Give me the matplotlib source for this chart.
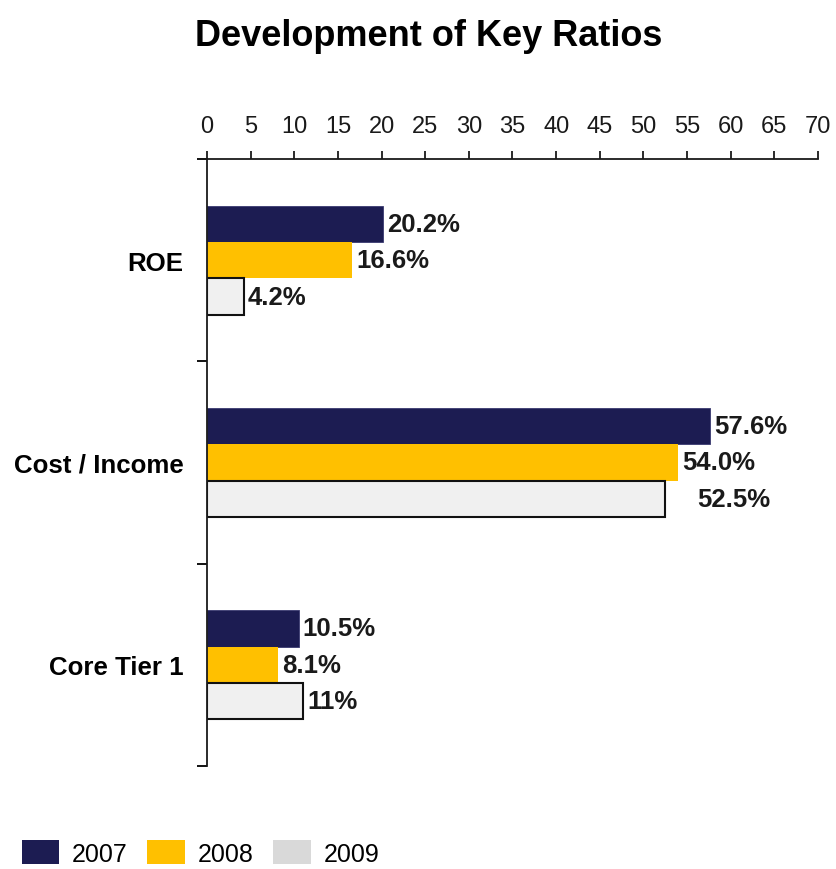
import matplotlib.pyplot as plt
from matplotlib.patches import Patch
from matplotlib.ticker import FixedLocator

plt.rcParams['font.family'] = ['Liberation Sans', 'DejaVu Sans']

categories = ['ROE', 'Cost / Income', 'Core Tier 1']
years = ['2007', '2008', '2009']
values_2007 = [20.2, 57.6, 10.5]
values_2008 = [16.6, 54.0, 8.1]
values_2009 = [4.2, 52.5, 11.0]
labels_2007 = ['20.2%', '57.6%', '10.5%']
labels_2008 = ['16.6%', '54.0%', '8.1%']
labels_2009 = ['4.2%', '52.5%', '11%']

series = [
    (values_2007, labels_2007, '#1c1c52', '#3a3a70', 0.6),
    (values_2008, labels_2008, '#ffc000', '#ffc000', 0.0),
    (values_2009, labels_2009, '#f0f0f0', '#111111', 1.5),
]
legend_colors = ['#1c1c52', '#ffc000', '#d9d9d9']

fig = plt.figure(figsize=(8.37, 8.70), dpi=100)
ax = fig.add_axes([0.2473, 0.1184, 0.73, 0.6977])

bar_h = 0.18
offsets = [-0.18, 0.0, 0.18]
ypos = list(range(len(categories)))

for (vals, labs, fc, ec, lw), off in zip(series, offsets):
    ys = [y + off for y in ypos]
    ax.barh(ys, vals, height=bar_h, color=fc, edgecolor=ec, linewidth=lw)
    for y, v, lab in zip(ys, vals, labs):
        # the 52.5% label sits further out, clear of the 54.0% one
        shift = 32 if lab == '52.5%' else 4
        ax.annotate(lab, (v, y), xytext=(shift, 0), textcoords='offset pixels',
                    ha='left', va='center', fontsize=18.5, fontweight='bold',
                    color='#1a1a1a')

ax.set_xlim(0, 70)
ax.set_ylim(len(categories) - 0.5, -0.5)

ax.xaxis.tick_top()
ax.set_xticks(range(0, 71, 5))
ax.tick_params(axis='x', which='major', direction='out', length=6, width=1.3,
               labelsize=17, pad=10, colors='#1a1a1a')

ax.set_yticks(ypos)
ax.set_yticklabels(categories, fontsize=18.6, fontweight='bold')
ax.tick_params(axis='y', which='major', length=0, pad=17)
ax.yaxis.set_minor_locator(FixedLocator([-0.5, 0.5, 1.5, 2.5]))
ax.tick_params(axis='y', which='minor', direction='out', length=7, width=1.3)

for side in ['right', 'bottom']:
    ax.spines[side].set_visible(False)
for side in ['top', 'left']:
    ax.spines[side].set_linewidth(1.3)
    ax.spines[side].set_color('#1a1a1a')

fig.suptitle('Development of Key Ratios', x=0.512, y=0.978, fontsize=26,
             fontweight='bold')

handles = [Patch(facecolor=c, edgecolor='none') for c in legend_colors]
fig.legend(handles, years, loc='lower left', bbox_to_anchor=(-0.001, -0.022),
           ncol=3, frameon=False, fontsize=18, handlelength=1.5,
           handleheight=1.1, handletextpad=0.5, columnspacing=0.8)

fig.savefig('out.png', dpi=100)
